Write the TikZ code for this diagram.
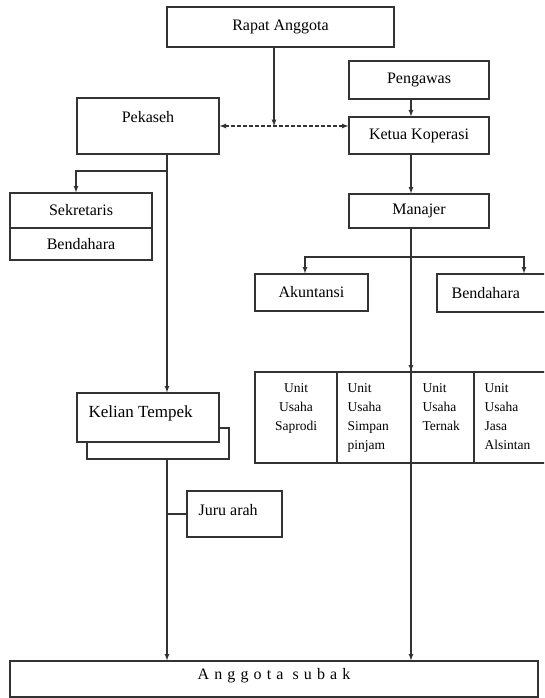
\documentclass[tikz,border=0pt]{standalone}
\usepackage{fontspec}
\setmainfont{Liberation Serif}
\newfontfamily\jarang[LetterSpace=32]{Liberation Serif}
\usepackage{tikz}
\usetikzlibrary{arrows}

\begin{document}
\begin{tikzpicture}[x=1pt,y=-1pt,>=latex,line width=1.2pt,draw=black!80,
		kotak/.style={draw,rectangle,fill=white,inner sep=0pt,font=\fontsize{16}{19}\selectfont},
		teks/.style={inner sep=0pt,font=\fontsize{16}{19}\selectfont},
		unit/.style={inner sep=0pt,anchor=north west,align=left,font=\fontsize{13.5}{19}\selectfont}]
			\clip (0,0) rectangle (544,698);
			
			% rapat, pengawas, ketua
			
			\node[kotak,minimum width=227pt,minimum height=40pt] (RA) at (280.5,27) {Rapat Anggota};
			\node[kotak,minimum width=140pt,minimum height=38pt] (PW) at (419,80) {Pengawas};
			\node[kotak,minimum width=140pt,minimum height=37pt] (KK) at (419,135.5) {Ketua Koperasi};
			\node[kotak,minimum width=142pt,minimum height=56pt] (PK) at (148,126) {};
			\node[teks] (PKt) at (148,117) {Pekaseh};
			\coordinate (tengah) at (274,126);
			\coordinate (m) at (411,0);
			\coordinate (p) at (167,0);
			\draw[->] (RA.south -| tengah) -- (tengah);
			\draw[<->,dash pattern=on 3.5pt off 2.5pt] (PK.east |- tengah) -- (KK.west |- tengah);
			\draw[->] (PW.south -| m) -- (KK.north -| m);
			
			% subak
			
			\node[kotak,minimum width=142pt,minimum height=35pt] (SK) at (81,210.5) {Sekretaris};
			\node[kotak,minimum width=142pt,minimum height=32pt] (BD1) at (81,244) {Bendahara};
			\node[kotak,minimum width=142pt,minimum height=31pt] (KTs) at (158,443.5) {};
			\node[kotak,minimum width=142pt,minimum height=49pt] (KT) at (148,417.5) {};
			\node[teks,anchor=west] (KTt) at (88,413) {\fontsize{17}{19}\selectfont Kelian Tempek};
			\node[kotak,minimum width=95pt,minimum height=46pt] (JA) at (234.5,514) {};
			\node[teks,anchor=west] (JAt) at (198,510) {Juru arah};
			\coordinate (cpk) at (167,171);
			\draw[->] (PK.south -| p) -- (KT.north -| p);
			\draw[->] (cpk) -| ([xshift=-5pt]SK.north);
			
			% koperasi
			
			\node[kotak,minimum width=140pt,minimum height=34pt] (MJ) at (419,211) {Manajer};
			\node[kotak,minimum width=113pt,minimum height=37pt] (AK) at (311.5,292.5) {Akuntansi};
			\node[kotak,minimum width=123pt,minimum height=38pt] (BD2) at (498.5,293) {};
			\node[teks,anchor=west] (BD2t) at (451,293) {Bendahara};
			\node[kotak,minimum width=305pt,minimum height=91pt] (UU) at (407.5,417.5) {};
			\foreach \x in {337,474} {
				\draw (\x,372) -- (\x,463);
			}
			\node[unit,anchor=north,align=center] (U1) at (296,383) {Unit\\Usaha\\Saprodi};
			\node[unit] (U2) at (347,383) {Unit\\Usaha\\Simpan\\pinjam};
			\node[unit] (U3) at (422,383) {Unit\\Usaha\\Ternak};
			\node[unit] (U4) at (484,383) {Unit\\Usaha\\Jasa\\Alsintan};
			\coordinate (cab) at (411,257);
			\draw[->] (KK.south -| m) -- (MJ.north -| m);
			\draw[->] (cab) -| ([xshift=-6.5pt]AK.north);
			\draw[->] (cab) -| ([xshift=25.5pt]BD2.north);
			
			% anggota
			
			\node[kotak,minimum width=528pt,minimum height=36pt] (AS) at (274,679) {};
			\node[teks] (ASt) at (274,676) {\jarang Anggota\ subak};
			\draw[->] (MJ.south -| m) -- (UU.north -| m);
			\draw[->] (MJ.south -| m) -- (AS.north -| m);
			\draw[->] (KTs.south -| p) -- (AS.north -| p);
			\draw (JA.west -| p) -- (JA.west);
\end{tikzpicture}
\end{document}
